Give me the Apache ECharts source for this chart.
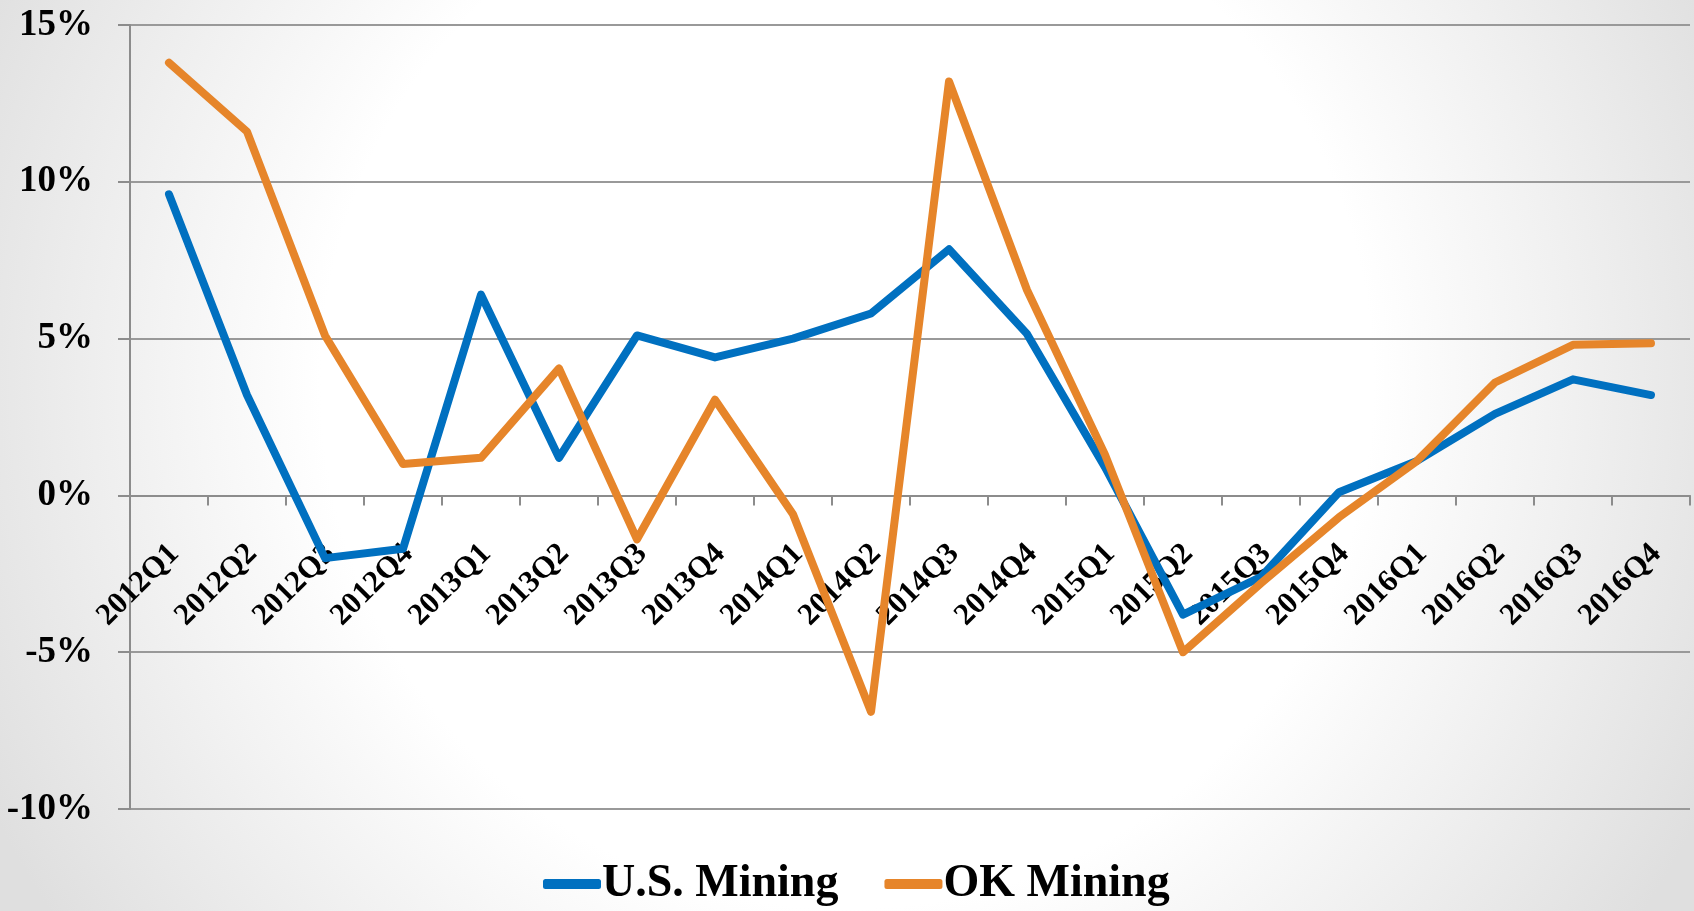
<!DOCTYPE html>
<html>
<head>
<meta charset="utf-8">
<script src="https://cdn.jsdelivr.net/npm/echarts@6/dist/echarts.min.js"></script>
<style>
html,body{margin:0;padding:0;width:1694px;height:911px;overflow:hidden;}
#chart{width:1694px;height:911px;}
</style>
</head>
<body>
<div id="chart"></div>
<script>
const categories = ['2012Q1','2012Q2','2012Q3','2012Q4','2013Q1','2013Q2','2013Q3','2013Q4','2014Q1','2014Q2','2014Q3','2014Q4','2015Q1','2015Q2','2015Q3','2015Q4','2016Q1','2016Q2','2016Q3','2016Q4'];
const usMining = [9.6, 3.2, -2.0, -1.7, 6.4, 1.2, 5.1, 4.4, 5.0, 5.8, 7.85, 5.15, 0.9, -3.8, -2.6, 0.1, 1.1, 2.6, 3.7, 3.2];
const okMining = [13.8, 11.6, 5.1, 1.0, 1.2, 4.05, -1.4, 3.05, -0.6, -6.9, 13.2, 6.55, 1.3, -5.0, -2.8, -0.7, 1.1, 3.6, 4.8, 4.85];
const seriesNames = ['U.S. Mining', 'OK Mining'];
const yTicks = {min: -10, max: 15, interval: 5};

const FONT = '"Liberation Serif", "DejaVu Serif", serif';
const GRID_TOP = 25, GRID_BOTTOM = 102, H = 911;
const plotH = H - GRID_TOP - GRID_BOTTOM;
// offset to lift the category axis from the grid bottom to the zero line
const zeroOffset = -plotH * (0 - yTicks.min) / (yTicks.max - yTicks.min);

const chart = echarts.init(document.getElementById('chart'), null, {renderer: 'canvas'});
chart.setOption({
  animation: false,
  backgroundColor: {
    type: 'radial', x: 0.5, y: 0.42, r: 1.05,
    colorStops: [
      {offset: 0, color: '#ffffff'},
      {offset: 0.55, color: '#ffffff'},
      {offset: 1, color: '#dfdfdf'}
    ]
  },
  grid: {left: 130, right: 4, top: GRID_TOP, bottom: GRID_BOTTOM, containLabel: false},
  legend: {
    top: 856,
    left: 538,
    padding: 5,
    icon: 'roundRect',
    itemWidth: 58,
    itemHeight: 10,
    itemGap: 46,
    data: seriesNames,
    textStyle: {fontFamily: FONT, fontSize: 46, fontWeight: 'bold', color: '#000', padding: [0, 0, 0, -4]}
  },
  xAxis: {
    type: 'category',
    data: categories,
    boundaryGap: true,
    position: 'bottom',
    offset: zeroOffset,
    axisLine: {show: true, onZero: false, lineStyle: {color: '#8c8c8c', width: 2}},
    axisTick: {show: true, length: 10, lineStyle: {color: '#8c8c8c', width: 2}},
    axisLabel: {rotate: 45, margin: 37, verticalAlign: 'top', align: 'right', lineHeight: 31,
      padding: [0, 8, 0, 0],
      fontFamily: FONT, fontSize: 31, fontWeight: 'bold', color: '#000', interval: 0}
  },
  yAxis: {
    type: 'value',
    min: yTicks.min, max: yTicks.max, interval: yTicks.interval,
    axisLine: {show: true, lineStyle: {color: '#8c8c8c', width: 2}},
    axisTick: {show: true, length: 12, lineStyle: {color: '#8c8c8c', width: 2}},
    splitLine: {show: true, lineStyle: {color: '#999999', width: 2}},
    axisLabel: {margin: 37, fontFamily: FONT, fontSize: 37, fontWeight: 'bold', color: '#000',
      formatter: v => v + '%'}
  },
  series: [
    {name: seriesNames[0], type: 'line', data: usMining, showSymbol: false, symbol: 'none',
     itemStyle: {color: '#0070C0'},
     lineStyle: {color: '#0070C0', width: 8, cap: 'round', join: 'round'}},
    {name: seriesNames[1], type: 'line', data: okMining, showSymbol: false, symbol: 'none',
     itemStyle: {color: '#E6852A'},
     lineStyle: {color: '#E6852A', width: 8, cap: 'round', join: 'round'}}
  ]
});
</script>
</body>
</html>
